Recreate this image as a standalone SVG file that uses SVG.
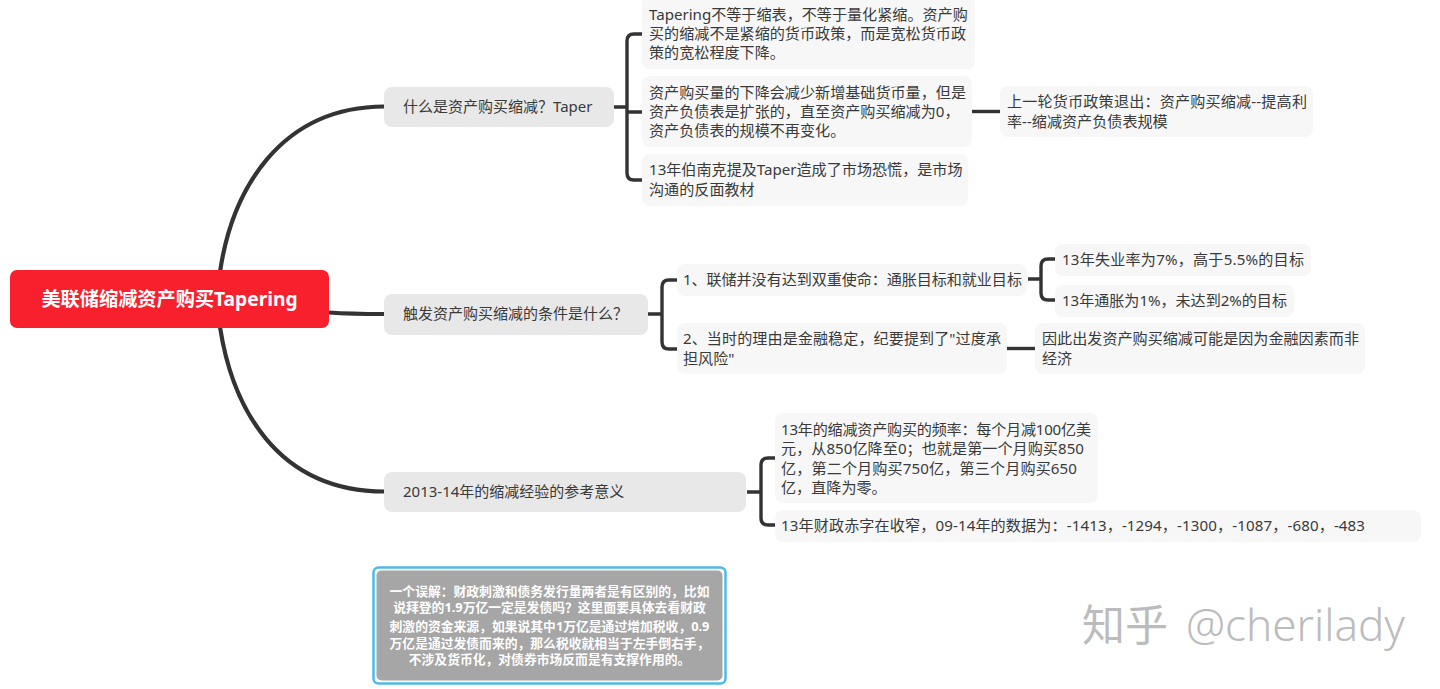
<svg xmlns="http://www.w3.org/2000/svg" width="1440" height="689" viewBox="0 0 1440 689">
<style>
text{font-family:"Noto Sans","Noto Sans CJK SC",sans-serif}
.main{fill:#e8e8e8}
.leaf{fill:#f7f7f7}
.t{font-size:15.1px;fill:#3a3a3a}
.m{font-size:15px;fill:#3a3a3a}
.c{fill:none;stroke:#333;stroke-width:3.4;stroke-linecap:butt}
.s{fill:none;stroke:#333;stroke-width:4.2}
.note{font-size:12.8px;font-weight:700;fill:#fff;text-anchor:middle}
</style>
<rect width="1440" height="689" fill="#fff"/>
<g id="connectors">
<path class="s" d="M220 272C232 190 280 107 384 106.500"/>
<path class="s" d="M329 312.500C350 314 365 314 384 314"/>
<path class="s" d="M220 327C232 405 275 491 384 491.500"/>
<path class="c" d="M614 107H627M642 34H634Q627 34 627 41V173Q627 180 634 180H642M627 112H642"/>
<path class="c" d="M972 111.500H1000"/>
<path class="c" d="M648 314H662M677 280H669Q662 280 662 287V342Q662 349 669 349H677"/>
<path class="c" d="M1028 279H1041M1055 259H1048Q1041 259 1041 266V293Q1041 300 1048 300H1055"/>
<path class="c" d="M1007 348.500H1035"/>
<path class="c" d="M747 492H761M775 458H768Q761 458 761 465V518Q761 525 768 525H775"/>
</g>
<g id="root">
<rect x="10" y="270" width="319" height="58" rx="7" fill="#f9202e"/>
<text x="169.500" y="306" text-anchor="middle" font-size="19.200" font-weight="700" fill="#fff">美联储缩减资产购买Tapering</text>
</g>
<g id="b1">
<rect class="main" x="384" y="87" width="230" height="40" rx="8"/>
<text class="m" x="403" y="112">什么是资产购买缩减&#65311;Taper</text>
</g>
<g id="b2">
<rect class="main" x="384" y="294" width="264" height="41" rx="8"/>
<text class="m" x="403" y="319">触发资产购买缩减的条件是什么&#65311;</text>
</g>
<g id="b3">
<rect class="main" x="384" y="472" width="362" height="40" rx="8"/>
<text class="m" x="403" y="497">2013-14年的缩减经验的参考意义</text>
</g>
<g id="l1">
<rect class="leaf" x="642" y="-4" width="333" height="73" rx="8"/>
<text class="t" x="649" y="19.500">Tapering不等于缩表&#65292;不等于量化紧缩。资产购</text>
<text class="t" x="649" y="38.500">买的缩减不是紧缩的货币政策&#65292;而是宽松货币政</text>
<text class="t" x="649" y="58">策的宽松程度下降。</text>
</g>
<g id="l2">
<rect class="leaf" x="642" y="76" width="330" height="71" rx="8"/>
<text class="t" x="649" y="98">资产购买量的下降会减少新增基础货币量&#65292;但是</text>
<text class="t" x="649" y="117">资产负债表是扩张的&#65292;直至资产购买缩减为0&#65292;</text>
<text class="t" x="649" y="136">资产负债表的规模不再变化。</text>
</g>
<g id="l3">
<rect class="leaf" x="642" y="154" width="326" height="52" rx="8"/>
<text class="t" x="649" y="175">13年伯南克提及Taper造成了市场恐慌&#65292;是市场</text>
<text class="t" x="649" y="195">沟通的反面教材</text>
</g>
<g id="l4">
<rect class="leaf" x="1000" y="86" width="313" height="51" rx="8"/>
<text class="t" x="1007" y="107" textLength="300">上一轮货币政策退出&#65306;资产购买缩减--提高利</text>
<text class="t" x="1007" y="127">率--缩减资产负债表规模</text>
</g>
<g id="l5">
<rect class="leaf" x="677" y="264" width="350" height="32" rx="8"/>
<text class="t" x="683" y="285" textLength="339">1、联储并没有达到双重使命&#65306;通胀目标和就业目标</text>
</g>
<g id="l6">
<rect class="leaf" x="677" y="323" width="330" height="51" rx="8"/>
<text class="t" x="683" y="344" textLength="318">2、当时的理由是金融稳定&#65292;纪要提到了"过度承</text>
<text class="t" x="683" y="364">担风险"</text>
</g>
<g id="l7">
<rect class="leaf" x="1055" y="244" width="256" height="32" rx="8"/>
<text class="t" x="1062" y="265" textLength="242">13年失业率为7%&#65292;高于5.5%的目标</text>
</g>
<g id="l8">
<rect class="leaf" x="1055" y="285" width="239" height="32" rx="8"/>
<text class="t" x="1062" y="306" textLength="225">13年通胀为1%&#65292;未达到2%的目标</text>
</g>
<g id="l9">
<rect class="leaf" x="1035" y="323" width="330" height="51" rx="8"/>
<text class="t" x="1042" y="344">因此出发资产购买缩减可能是因为金融因素而非</text>
<text class="t" x="1042" y="364">经济</text>
</g>
<g id="l10">
<rect class="leaf" x="775" y="413" width="323" height="90" rx="8"/>
<text class="t" x="781" y="435" textLength="310">13年的缩减资产购买的频率&#65306;每个月减100亿美</text>
<text class="t" x="781" y="454" textLength="303">元&#65292;从850亿降至0&#65307;也就是第一个月购买850</text>
<text class="t" x="781" y="474" textLength="296">亿&#65292;第二个月购买750亿&#65292;第三个月购买650</text>
<text class="t" x="781" y="493">亿&#65292;直降为零。</text>
</g>
<g id="l11">
<rect class="leaf" x="775" y="510" width="646" height="32" rx="8"/>
<text class="t" x="781" y="531" textLength="584">13年财政赤字在收窄&#65292;09-14年的数据为&#65306;-1413&#65292;-1294&#65292;-1300&#65292;-1087&#65292;-680&#65292;-483</text>
</g>
<g id="note">
<rect x="373.500" y="567.500" width="352" height="116" rx="5" fill="#fff" stroke="#4fb9e8" stroke-width="2.500"/>
<rect x="376.500" y="570.500" width="346" height="110" rx="5" fill="#a6a6a6"/>
<text class="note" x="549.500" y="596">一个误解&#65306;财政刺激和债务发行量两者是有区别的&#65292;比如</text>
<text class="note" x="549.500" y="612">说拜登的1.9万亿一定是发债吗&#65311;这里面要具体去看财政</text>
<text class="note" x="549.500" y="631">刺激的资金来源&#65292;如果说其中1万亿是通过增加税收&#65292;0.9</text>
<text class="note" x="549.500" y="648">万亿是通过发债而来的&#65292;那么税收就相当于左手倒右手&#65292;</text>
<text class="note" x="549.500" y="664">不涉及货币化&#65292;对债券市场反而是有支撑作用的。</text>
</g>
<g id="watermark">
<text x="1082" y="641" font-size="43" fill="#bcbcbc">知乎</text>
<text x="1186" y="641" font-size="44" fill="#bcbcbc" font-weight="300">@cherilady</text>
</g>
</svg>
